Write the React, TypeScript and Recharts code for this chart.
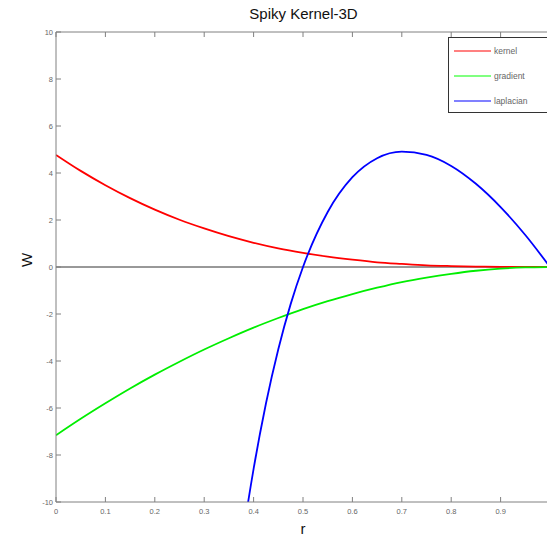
import { LineChart, Line, XAxis, YAxis, Legend, ReferenceLine } from 'recharts'

// r samples
const R = [0, 0.05, 0.1, 0.15, 0.2, 0.25, 0.3, 0.35, 0.4, 0.45, 0.5, 0.55, 0.6, 0.65, 0.7, 0.75, 0.8, 0.85, 0.9, 0.95, 1]
const KERNEL = [4.77, 4.09, 3.48, 2.93, 2.44, 2.01, 1.64, 1.31, 1.03, 0.79, 0.6, 0.44, 0.31, 0.2, 0.13, 0.07, 0.04, 0.02, 0.005, 0.001, 0]
const GRADIENT = [-7.16, -6.46, -5.8, -5.17, -4.58, -4.03, -3.51, -3.03, -2.58, -2.17, -1.79, -1.45, -1.15, -0.88, -0.64, -0.45, -0.29, -0.16, -0.07, -0.02, 0]

// laplacian only shows from r ~ 0.39 (clipped below -10)
const LAP_R = [0.35, 0.375, 0.4, 0.425, 0.45, 0.475, 0.5, 0.55, 0.6, 0.65, 0.7, 0.75, 0.8, 0.85, 0.9, 0.95, 1]
const LAPLACIAN = [-15.96, -11.94, -8.59, -5.81, -3.5, -1.58, 0, 2.34, 3.82, 4.63, 4.91, 4.77, 4.3, 3.54, 2.55, 1.36, 0]

const X_TICKS = [0, 0.1, 0.2, 0.3, 0.4, 0.5, 0.6, 0.7, 0.8, 0.9, 1]
const Y_TICKS = [-10, -8, -6, -4, -2, 0, 2, 4, 6, 8, 10]

const SERIES = [
  { key: 'kernel', color: '#ff0000', legend: '#ff8080' },
  { key: 'gradient', color: '#00ee00', legend: '#80ff80' },
  { key: 'laplacian', color: '#0000ff', legend: '#8080ff' },
]

const mainData = R.map((r, i) => ({ r, kernel: KERNEL[i], gradient: GRADIENT[i] }))
const lapData = LAP_R.map((r, i) => ({ r, laplacian: LAPLACIAN[i] }))

const AXIS = '#808080'
const TXT = '#666'
const FONT = '"Liberation Sans", Arial, sans-serif'

const fmtX = (v: number) => (v === 0 ? '0' : v === 1 ? '' : String(v))

function BottomTick(props: any) {
  const { x, y, payload } = props
  return (
    <g>
      <line x1={x} x2={x} y1={y} y2={y - 5} stroke={AXIS} />
      <text x={x} y={y + 12} textAnchor="middle" fontSize={7.5} fill={TXT} fontFamily={FONT}>
        {fmtX(payload.value)}
      </text>
    </g>
  )
}

function TopTick(props: any) {
  const { x, y } = props
  return <line x1={x} x2={x} y1={y} y2={y + 5} stroke={AXIS} />
}

function LeftTick(props: any) {
  const { x, y, payload } = props
  return (
    <g>
      <line x1={x} x2={x + 5} y1={y} y2={y} stroke={AXIS} />
      <text x={x - 3} y={y + 2.5} textAnchor="end" fontSize={7.5} fill={TXT} fontFamily={FONT}>
        {payload.value}
      </text>
    </g>
  )
}

function RightTick(props: any) {
  const { x, y } = props
  return <line x1={x} x2={x - 5} y1={y} y2={y} stroke={AXIS} />
}

function LegendBox() {
  return (
    <div
      style={{
        width: 110,
        height: 76,
        border: '1px solid #333',
        background: '#fff',
        boxSizing: 'border-box',
        fontFamily: FONT,
        fontSize: 8.5,
        color: TXT,
        position: 'relative',
      }}
    >
      {SERIES.map((s, i) => (
        <div
          key={s.key}
          style={{ position: 'absolute', left: 5, top: 8 + i * 25, display: 'flex', alignItems: 'center', height: 10 }}
        >
          <span style={{ display: 'inline-block', width: 37, height: 2, background: s.legend, marginRight: 3 }} />
          <span>{s.key}</span>
        </div>
      ))}
    </div>
  )
}

export default function App() {
  return (
    <div style={{ position: 'absolute', left: 0, top: 0, width: 547, height: 540, overflow: 'hidden', background: '#fff' }}>
      <div
        style={{
          position: 'absolute',
          left: 56,
          width: 495,
          top: 4,
          textAlign: 'center',
          fontFamily: FONT,
          fontSize: 15,
          color: '#111',
          lineHeight: '20px',
        }}
      >
        Spiky Kernel-3D
      </div>
      <LineChart width={551} height={540} data={mainData} margin={{ top: 31, right: 0, bottom: 2, left: 25 }}>
        <XAxis
          dataKey="r"
          type="number"
          domain={[0, 1]}
          ticks={X_TICKS}
          interval={0}
          height={36}
          tickSize={0}
          tickMargin={0}
          tickLine={false}
          tick={<BottomTick />}
          axisLine={{ stroke: AXIS }}
          allowDataOverflow
          label={{ value: 'r', position: 'insideBottom', offset: 4, fontSize: 15, fill: '#111', fontFamily: FONT }}
        />
        <XAxis
          xAxisId="top"
          dataKey="r"
          type="number"
          orientation="top"
          domain={[0, 1]}
          ticks={X_TICKS}
          interval={0}
          height={1}
          tickSize={0}
          tickMargin={0}
          tickLine={false}
          tick={<TopTick />}
          axisLine={{ stroke: AXIS }}
        />
        <YAxis
          type="number"
          domain={[-10, 10]}
          ticks={Y_TICKS}
          interval={0}
          width={31}
          tickSize={0}
          tickMargin={0}
          tickLine={false}
          tick={<LeftTick />}
          axisLine={{ stroke: AXIS }}
          allowDataOverflow
          label={{ value: 'W', angle: -90, position: 'insideLeft', offset: 2, fontSize: 15, fill: '#111', fontFamily: FONT }}
        />
        <YAxis
          yAxisId="right"
          type="number"
          orientation="right"
          domain={[-10, 10]}
          ticks={Y_TICKS}
          interval={0}
          width={1}
          tickSize={0}
          tickMargin={0}
          tickLine={false}
          tick={<RightTick />}
          axisLine={{ stroke: AXIS }}
        />
        <ReferenceLine y={0} stroke="#333" />
        <Line dataKey="kernel" stroke={SERIES[0].color} strokeWidth={1.8} dot={false} type="monotone" isAnimationActive={false} />
        <Line dataKey="gradient" stroke={SERIES[1].color} strokeWidth={1.8} dot={false} type="monotone" isAnimationActive={false} />
        <Line
          data={lapData}
          dataKey="laplacian"
          stroke={SERIES[2].color}
          strokeWidth={1.8}
          dot={false}
          type="monotone"
          isAnimationActive={false}
        />
        <Legend
          layout="vertical"
          align="center"
          verticalAlign="middle"
          content={() => <LegendBox />}
          wrapperStyle={{ position: 'absolute', left: 448, top: 37, width: 110 }}
        />
      </LineChart>
    </div>
  )
}
